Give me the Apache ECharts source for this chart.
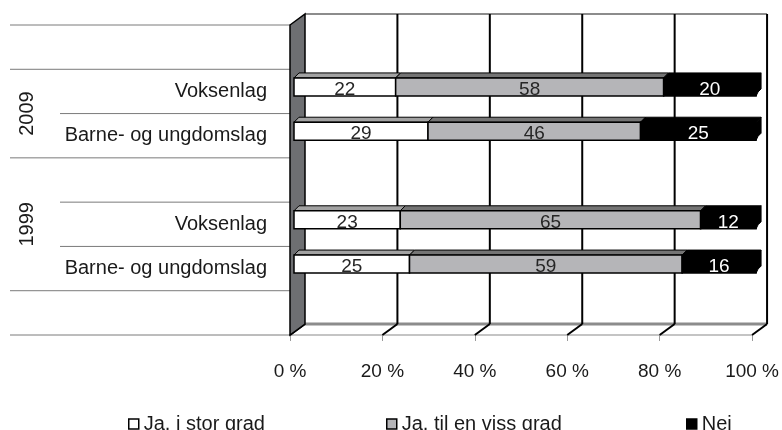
<!DOCTYPE html>
<html>
<head>
<meta charset="utf-8">
<script src="https://cdn.jsdelivr.net/npm/echarts@6/dist/echarts.min.js"></script>
<style>
  html, body { margin: 0; padding: 0; background: #fff; }
  #chart { width: 782px; height: 430px; }
</style>
</head>
<body>
<div id="chart"></div>
<script>
// rows from top to bottom, blank rows separate the year groups
const categories = ['', 'Voksenlag', 'Barne- og ungdomslag', '', 'Voksenlag', 'Barne- og ungdomslag', '']
const groupYears = ['', '2009', '1999', '']
const groupFirst = [0, 1, 3, 6]
const groupLast  = [0, 2, 5, 6]

const seriesNames = ['Ja, i stor grad', 'Ja, til en viss grad', 'Nei']
const storGrad = [null, 22, 29, null, 23, 25, null]
const vissGrad = [null, 58, 46, null, 65, 59, null]
const nei      = [null, 20, 25, null, 12, 16, null]
const xTicks = [0, 20, 40, 60, 80, 100]

const FONT = '"Liberation Sans", Arial, sans-serif'
const DEPTH = [15, -11]          // front plane -> back wall
const BAR = { dx: 4, dy: -4.5, h: 18, topDx: 5, topDy: -5 }

const looks = [
  { front: '#ffffff', top: '#a2a2a2', text: '#262626' },
  { front: '#b5b5b8', top: '#747474', text: '#262626' },
  { front: '#000000', top: '#000000', text: '#ffffff', side: '#000000' },
]

const values = [storGrad, vissGrad, nei]
const stacked = values.map((arr, s) => {
  const out = []
  arr.forEach((v, i) => {
    if (v == null) return
    let start = 0
    for (let p = 0; p < s; p++) start += values[p][i] || 0
    out.push([start, start + v, i, v])
  })
  return out
})

function barItem(look) {
  return function (params, api) {
    const a = api.coord([api.value(0), api.value(2)])
    const b = api.coord([api.value(1), api.value(2)])
    const x0 = a[0] + BAR.dx, x1 = b[0] + BAR.dx
    const yc = a[1] + BAR.dy
    const y0 = yc - BAR.h / 2, y1 = yc + BAR.h / 2
    const children = [
      { type: 'polygon', shape: { points: [[x0, y0], [x0 + BAR.topDx, y0 + BAR.topDy], [x1 + BAR.topDx, y0 + BAR.topDy], [x1, y0]] },
        style: { fill: look.top, stroke: '#000', lineWidth: 1 } },
    ]
    if (look.side) {
      children.push({ type: 'polygon', shape: { points: [[x1, y0], [x1 + BAR.topDx, y0 + BAR.topDy], [x1 + BAR.topDx, y1 + BAR.topDy - 2], [x1 + BAR.topDx - 3, y1 + BAR.topDy + 1], [x1, y1]] },
        style: { fill: look.side, stroke: '#000', lineWidth: 1 } })
    }
    children.push({ type: 'rect', shape: { x: x0, y: y0, width: x1 - x0, height: BAR.h },
      style: { fill: look.front, stroke: '#000', lineWidth: 1.5 } })
    children.push({ type: 'text', style: { text: String(api.value(3)), x: (x0 + x1) / 2, y: yc + 2.5,
      align: 'center', verticalAlign: 'middle', fill: look.text, fontSize: 19, fontFamily: FONT } })
    return { type: 'group', children }
  }
}

function frameItem(params, api) {
  const n = categories.length
  const bw = api.size([0, 1])[1]
  const top = api.coord([0, 0])[1] - bw / 2
  const bottom = top + bw * n
  const xl = api.coord([0, 0])[0]
  const xr = api.coord([100, 0])[0]
  const [dx, dy] = DEPTH
  const ch = []

  // row separators in the label area
  for (let k = 0; k <= n; k++) {
    const long = groupFirst.includes(k) || k === n
    const y = top + k * bw
    ch.push({ type: 'line', shape: { x1: long ? 10 : 60, y1: y, x2: xl, y2: y }, style: { stroke: '#7a7a7a', lineWidth: 1 } })
  }
  // year labels
  groupYears.forEach((yr, g) => {
    if (!yr) return
    const yMid = top + (groupFirst[g] + groupLast[g] + 1) / 2 * bw
    ch.push({ type: 'text', x: 27, y: yMid, rotation: Math.PI / 2,
      style: { text: yr, align: 'center', verticalAlign: 'middle', fill: '#1a1a1a', fontSize: 20, fontFamily: FONT } })
  })
  // floor
  ch.push({ type: 'line', shape: { x1: xl + dx, y1: bottom + dy, x2: xr + dx, y2: bottom + dy }, style: { stroke: '#8c8c8c', lineWidth: 3 } })
  xTicks.forEach(v => {
    const x = api.coord([v, 0])[0]
    ch.push({ type: 'line', shape: { x1: x, y1: bottom, x2: x + dx, y2: bottom + dy }, style: { stroke: '#000', lineWidth: 2 } })
  })
  // back wall
  ch.push({ type: 'line', shape: { x1: xl + dx, y1: top + dy, x2: xr + dx, y2: top + dy }, style: { stroke: '#8c8c8c', lineWidth: 2 } })
  xTicks.slice(1).forEach(v => {
    const x = api.coord([v, 0])[0] + dx
    ch.push({ type: 'line', shape: { x1: x, y1: top + dy, x2: x, y2: bottom + dy }, style: { stroke: '#000', lineWidth: 2 } })
  })
  // side wall
  ch.push({ type: 'polygon', shape: { points: [[xl, top], [xl + dx, top + dy], [xl + dx, bottom + dy], [xl, bottom]] },
    style: { fill: '#6e6f72', stroke: '#000', lineWidth: 1.5 } })
  return { type: 'group', children: ch }
}

const chart = echarts.init(document.getElementById('chart'), null, { renderer: 'canvas' })

const legendBase = {
  top: 414, padding: 0, itemWidth: 10, itemHeight: 10, icon: 'rect',
  itemStyle: { borderColor: '#000', borderWidth: 1.5 },
  textStyle: { color: '#1a1a1a', fontSize: 20, fontFamily: FONT },
}

chart.setOption({
  animation: false,
  backgroundColor: '#fff',
  grid: { left: 290, right: 29, top: 25, bottom: 95, containLabel: false },
  legend: [
    { ...legendBase, left: 128, data: [seriesNames[0]] },
    { ...legendBase, left: 386, data: [seriesNames[1]] },
    { ...legendBase, left: 686, data: [seriesNames[2]] },
  ],
  xAxis: {
    type: 'value', min: 0, max: 100, interval: 20,
    axisLine: { show: true, lineStyle: { color: '#c4c4c4', width: 2 } },
    axisTick: { show: true, length: 6, lineStyle: { color: '#9a9a9a' } },
    splitLine: { show: false },
    axisLabel: { formatter: '{value} %', color: '#1a1a1a', fontSize: 19, fontFamily: FONT, margin: 27 },
  },
  yAxis: {
    type: 'category', data: categories, inverse: true,
    axisLine: { show: false }, axisTick: { show: false }, splitLine: { show: false },
    axisLabel: { color: '#1a1a1a', fontSize: 20, fontFamily: FONT, margin: 23 },
  },
  series: [
    { type: 'custom', name: 'frame', silent: true, z: 1, data: [[0, 0]], encode: { x: 0, y: 1 }, renderItem: frameItem },
    ...seriesNames.map((name, s) => ({
      type: 'custom', name, z: 2 + s, silent: true,
      data: stacked[s], encode: { x: [0, 1], y: 2 },
      itemStyle: { color: looks[s].front, borderColor: '#000', borderWidth: 1.5 },
      renderItem: barItem(looks[s]),
    })),
  ],
})
</script>
</body>
</html>
